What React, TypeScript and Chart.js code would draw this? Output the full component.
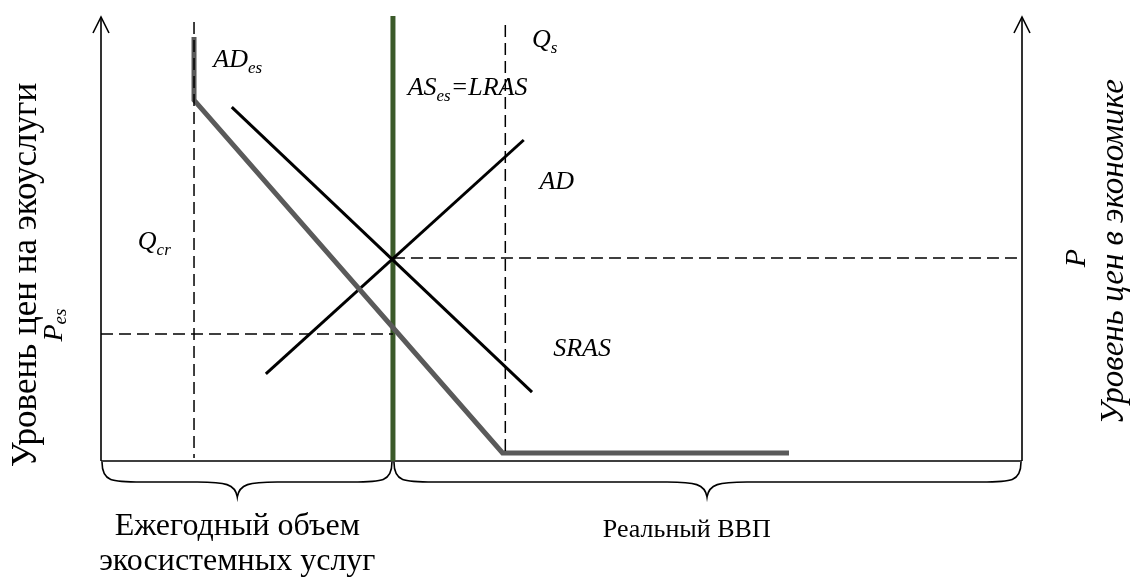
import { useEffect, useRef } from "react";
import { Chart, registerables } from "chart.js";

Chart.register(...registerables);

// ---- data (abstract units: x 0..100 along output axis, y 0..100 along price axis) ----
const qcrX = [10.1, 10.1];
const qcrY = [98.9, 0.7];
const qsX = [43.9, 43.9];
const qsY = [98.2, 1.4];
const lrasX = [31.7, 31.7];
const lrasY = [100.2, 0];
const adesX = [10.1, 10.1, 43.6, 74.7];
const adesY = [95.5, 81.3, 1.8, 1.8];
const adX = [14.2, 46.8];
const adY = [79.7, 15.5];
const srasX = [17.9, 45.9];
const srasY = [19.6, 72.3];
const pX = [31.7, 100];
const pY = [45.7, 45.7];
const pesX = [0, 31.7];
const pesY = [28.6, 28.6];

const braceLeft = [0, 14.8, 31.7]; // start, tip, end
const braceRight = [31.7, 65.8, 100];

const pts = (xs: number[], ys: number[]) => xs.map((x, i) => ({ x, y: ys[i] }));

type Part = { t: string; sub?: boolean };
const curveLabels: { parts: Part[]; x: number; y: number }[] = [
  { parts: [{ t: "AD" }, { t: "es", sub: true }], x: 12.2, y: 88.7 },
  { parts: [{ t: "Q" }, { t: "s", sub: true }], x: 46.8, y: 93.2 },
  { parts: [{ t: "AS" }, { t: "es", sub: true }, { t: "=LRAS" }], x: 33.3, y: 82.4 },
  { parts: [{ t: "AD" }], x: 47.6, y: 61.3 },
  { parts: [{ t: "Q" }, { t: "cr", sub: true }], x: 4.0, y: 47.7 },
  { parts: [{ t: "SRAS" }], x: 49.1, y: 23.6 },
];

const SERIF = "'Liberation Serif', 'DejaVu Serif', serif";

function drawParts(ctx: CanvasRenderingContext2D, parts: Part[], x: number, y: number, size: number, subSize: number) {
  let cx = x;
  for (const p of parts) {
    ctx.font = `italic ${p.sub ? subSize : size}px ${SERIF}`;
    ctx.fillText(p.t, cx, p.sub ? y + size * 0.22 : y);
    cx += ctx.measureText(p.t).width;
  }
}

function partsWidth(ctx: CanvasRenderingContext2D, parts: Part[], size: number, subSize: number) {
  let w = 0;
  for (const p of parts) {
    ctx.font = `italic ${p.sub ? subSize : size}px ${SERIF}`;
    w += ctx.measureText(p.t).width;
  }
  return w;
}

const decor = {
  id: "decor",
  beforeDatasetsDraw(chart: any) {
    const { ctx } = chart;
    const xs = chart.scales.x;
    const ys = chart.scales.y;
    const X = (v: number) => xs.getPixelForValue(v);
    const Y = (v: number) => ys.getPixelForValue(v);
    ctx.save();
    ctx.strokeStyle = "#000";
    ctx.lineWidth = 1.6;
    ctx.setLineDash([]);
    // axes
    ctx.beginPath();
    ctx.moveTo(X(0), Y(0));
    ctx.lineTo(X(0), Y(100));
    ctx.moveTo(X(100), Y(0));
    ctx.lineTo(X(100), Y(100));
    ctx.moveTo(X(0), Y(0));
    ctx.lineTo(X(100), Y(0));
    ctx.stroke();
    // arrow heads
    for (const ax of [0, 100]) {
      const tx = X(ax);
      const ty = Y(100);
      ctx.beginPath();
      ctx.moveTo(tx - 8, ty + 16);
      ctx.lineTo(tx, ty);
      ctx.lineTo(tx + 8, ty + 16);
      ctx.stroke();
    }
    ctx.restore();
  },
  afterDatasetsDraw(chart: any) {
    const { ctx } = chart;
    const xs = chart.scales.x;
    const ys = chart.scales.y;
    const X = (v: number) => xs.getPixelForValue(v);
    const Y = (v: number) => ys.getPixelForValue(v);
    ctx.save();
    ctx.fillStyle = "#000";
    ctx.strokeStyle = "#000";
    ctx.textBaseline = "alphabetic";

    // braces
    ctx.lineWidth = 1.6;
    const drawBrace = (b: number[]) => {
      const x0 = X(b[0]) + 1;
      const xt = X(b[1]);
      const x1 = X(b[2]) - 1;
      const top = Y(0) + 1;
      const mid = top + 20;
      const tip = top + 35;
      ctx.beginPath();
      ctx.moveTo(x0, top);
      ctx.bezierCurveTo(x0, mid, x0 + 10, mid, x0 + 40, mid);
      ctx.lineTo(xt - 40, mid);
      ctx.bezierCurveTo(xt - 12, mid, xt - 2, mid + 2, xt, tip);
      ctx.bezierCurveTo(xt + 2, mid + 2, xt + 12, mid, xt + 40, mid);
      ctx.lineTo(x1 - 40, mid);
      ctx.bezierCurveTo(x1 - 10, mid, x1, mid, x1, top);
      ctx.stroke();
    };
    drawBrace(braceLeft);
    drawBrace(braceRight);

    // curve labels
    ctx.textAlign = "left";
    for (const l of curveLabels) drawParts(ctx, l.parts, X(l.x), Y(l.y), 26, 17);

    // bottom texts
    ctx.textAlign = "center";
    ctx.font = `32px ${SERIF}`;
    ctx.fillText("Ежегодный объем", X(14.8), Y(-16.7));
    ctx.fillText("экосистемных услуг", X(14.8), Y(-24.5));
    ctx.font = `26px ${SERIF}`;
    ctx.fillText("Реальный ВВП", X(63.6), Y(-17.1));

    // left rotated label
    ctx.save();
    ctx.translate(X(-8.1), Y(41.9));
    ctx.rotate(-Math.PI / 2);
    ctx.textAlign = "center";
    ctx.textBaseline = "middle";
    ctx.font = `35px ${SERIF}`;
    ctx.fillText("Уровень цен на экоуслуги", 0, 0);
    ctx.restore();

    // P_es rotated
    ctx.save();
    ctx.translate(X(-5.0), Y(30.6));
    ctx.rotate(-Math.PI / 2);
    ctx.textAlign = "left";
    ctx.textBaseline = "middle";
    const pes: Part[] = [{ t: "P" }, { t: "es", sub: true }];
    const w = partsWidth(ctx, pes, 28, 19);
    drawParts(ctx, pes, -w / 2, 0, 28, 19);
    ctx.restore();

    // right labels
    ctx.save();
    ctx.translate(X(106.0), Y(45.7));
    ctx.rotate(-Math.PI / 2);
    ctx.textAlign = "center";
    ctx.textBaseline = "middle";
    ctx.font = `italic 30px ${SERIF}`;
    ctx.fillText("P", 0, 0);
    ctx.restore();

    ctx.save();
    ctx.translate(X(110.0), Y(47.1));
    ctx.rotate(-Math.PI / 2);
    ctx.textAlign = "center";
    ctx.textBaseline = "middle";
    ctx.font = `italic 33px ${SERIF}`;
    ctx.fillText("Уровень цен в экономике", 0, 0);
    ctx.restore();

    ctx.restore();
  },
};

export default function App() {
  const ref = useRef<HTMLCanvasElement>(null);
  useEffect(() => {
    if (!ref.current) return;
    const dashed = { borderColor: "#000", borderWidth: 1.5, borderDash: [12, 6] };
    const chart = new Chart(ref.current, {
      type: "scatter",
      data: {
        datasets: [
          { label: "Qcr", data: pts(qcrX, qcrY), ...dashed },
          { label: "Qs", data: pts(qsX, qsY), ...dashed },
          { label: "P", data: pts(pX, pY), ...dashed },
          { label: "Pes", data: pts(pesX, pesY), ...dashed },
          { label: "ADes", data: pts(adesX, adesY), borderColor: "#5a5a5a", borderWidth: 5, borderJoinStyle: "miter" },
          { label: "AD", data: pts(adX, adY), borderColor: "#000", borderWidth: 3 },
          { label: "SRAS", data: pts(srasX, srasY), borderColor: "#000", borderWidth: 3 },
          { label: "LRAS", data: pts(lrasX, lrasY), borderColor: "#3b5a2a", borderWidth: 5 },
        ].map((d: any) => ({ ...d, showLine: true, pointRadius: 0, fill: false, tension: 0, clip: false })),
      },
      options: {
        animation: false,
        responsive: false,
        devicePixelRatio: 1,
        layout: { padding: { left: 101, right: 111, top: 17, bottom: 116 } },
        scales: {
          x: { type: "linear", min: 0, max: 100, display: false },
          y: { type: "linear", min: 0, max: 100, display: false },
        },
        plugins: { legend: { display: false }, tooltip: { enabled: false } },
      },
      plugins: [decor],
    } as any);
    return () => chart.destroy();
  }, []);
  return (
    <div style={{ position: "fixed", left: 0, top: 0, width: 1133, height: 577, background: "#fff" }}>
      <canvas ref={ref} width={1133} height={577} style={{ width: 1133, height: 577 }} />
    </div>
  );
}
